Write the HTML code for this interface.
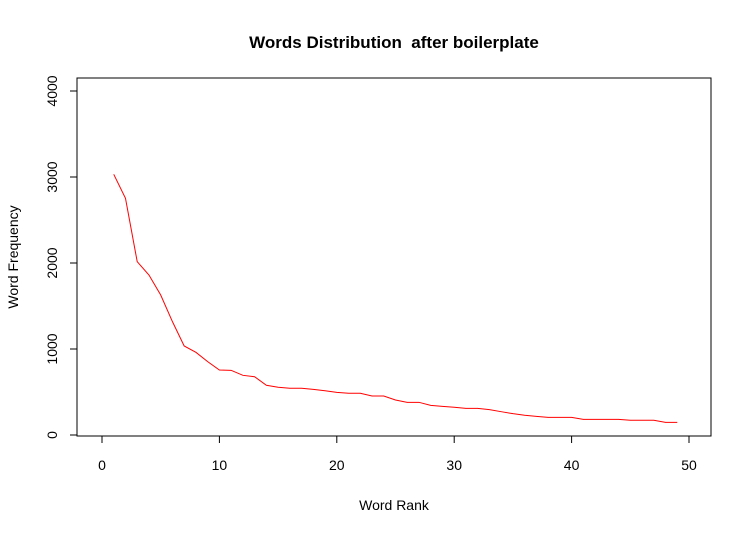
<!DOCTYPE html>
<html><head><meta charset="utf-8"><style>
html,body{margin:0;padding:0;background:#fff;}
svg text{font-family:"Liberation Sans",Arial,sans-serif;}
</style></head><body>
<svg id="chart" width="752" height="534" xmlns="http://www.w3.org/2000/svg">
<rect width="752" height="534" fill="#fff"/>
<text x="394" y="48" text-anchor="middle" font-size="17" font-weight="bold">Words Distribution&#160; after boilerplate</text>
<rect x="77" y="78" width="634" height="358" fill="none" stroke="#000" stroke-width="1"/>
<g id="xaxis"></g>
<g id="yaxis"></g>
<text x="394" y="510" text-anchor="middle" font-size="14">Word Rank</text>
<text x="18" y="257" text-anchor="middle" font-size="14" transform="rotate(-90 18 257)">Word Frequency</text>
<g id="series"></g>
</svg>
<script>
const ranks = Array.from({length:49},(_,i)=>i+1);
const frequencies = [3031,2752,2015,1860,1628,1318,1035,961,853,756,752,694,678,578,555,543,543,531,515,496,485,485,453,453,407,380,380,344,333,322,310,310,295,271,248,229,217,205,205,205,182,182,182,182,171,171,171,147,147];
const xTicks = [0,10,20,30,40,50];
const yTicks = [0,1000,2000,3000,4000];
const NS="http://www.w3.org/2000/svg";
const sx = v => 102 + v*11.74;
const sy = v => 435 - v*0.086;
function mk(tag, attrs, parent){const e=document.createElementNS(NS,tag);for(const k in attrs)e.setAttribute(k,attrs[k]);parent.appendChild(e);return e;}
const xa=document.getElementById('xaxis'), ya=document.getElementById('yaxis'), se=document.getElementById('series');
mk('line',{x1:sx(0),x2:sx(50),y1:436,y2:436,stroke:'#000'},xa);
xTicks.forEach(t=>{
  const l=mk('line',{x1:sx(t),x2:sx(t),y1:436,y2:443,stroke:'#000'},xa);
  
  
  const tx=mk('text',{x:sx(t),y:470,'text-anchor':'middle','font-size':'14'},xa);
  tx.textContent=t;
  
  
});
mk('line',{x1:77,x2:77,y1:sy(0),y2:sy(4000),stroke:'#000'},ya);
yTicks.forEach(t=>{
  const l=mk('line',{x1:70,x2:77,y1:sy(t),y2:sy(t),stroke:'#000'},ya);
  
  
  const tx=mk('text',{x:57,y:sy(t),'text-anchor':'middle','font-size':'14',transform:`rotate(-90 57 ${sy(t)})`},ya);
  tx.textContent=t;
  
  
});
const p=mk('polyline',{points:ranks.map((r,i)=>sx(r)+','+sy(frequencies[i])).join(' '),fill:'none',stroke:'#ff0000','stroke-width':'1'},se);


</script>
</body></html>
